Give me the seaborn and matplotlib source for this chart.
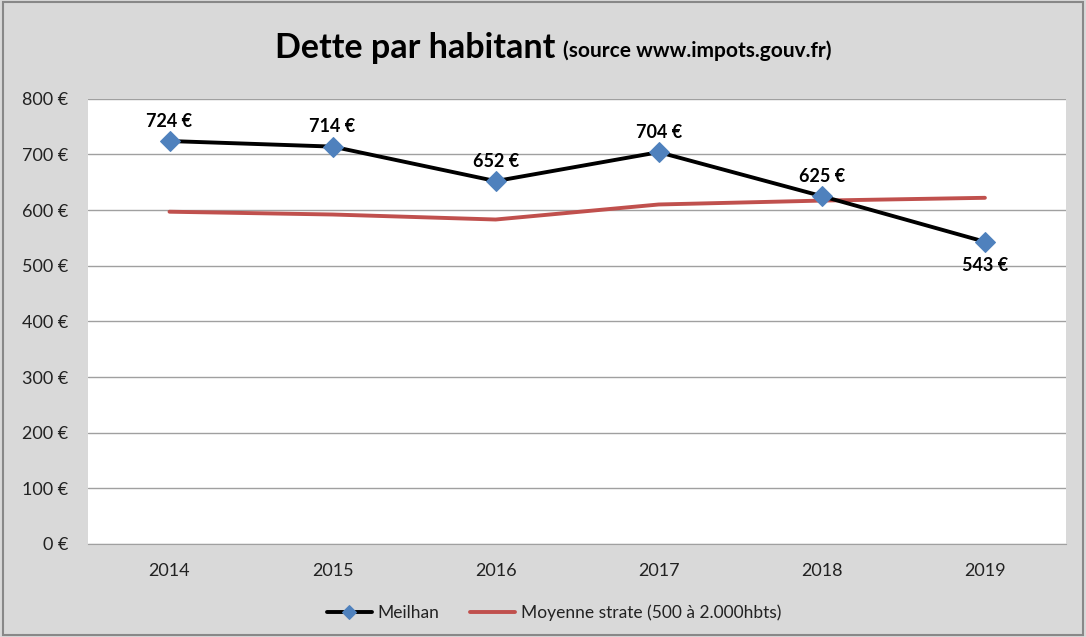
import matplotlib
matplotlib.use('Agg')
import seaborn as sns
import matplotlib.pyplot as plt
import pandas as pd

# données
annees = ['2014', '2015', '2016', '2017', '2018', '2019']
meilhan = [724, 714, 652, 704, 625, 543]
moyenne_strate = [597, 592, 583, 610, 617, 622]
yticks = [0, 100, 200, 300, 400, 500, 600, 700, 800]

df = pd.DataFrame({'annee': annees, 'Meilhan': meilhan, 'Moyenne': moyenne_strate})

sns.set_style('white')
plt.rcParams['font.family'] = ['Lato', 'DejaVu Sans']
plt.rcParams['text.color'] = 'black'
plt.rcParams['xtick.color'] = '#222222'
plt.rcParams['ytick.color'] = '#222222'

fig = plt.figure(figsize=(10.86, 6.37), dpi=100, facecolor='#d9d9d9')
ax = fig.add_axes([0.081, 0.146, 0.901, 0.699])
ax.set_facecolor('white')

x = list(range(len(annees)))
sns.lineplot(x=x, y=df['Moyenne'], ax=ax, color='#c0504d', linewidth=2.8,
             label='Moyenne strate (500 à 2.000hbts)')
sns.lineplot(x=x, y=df['Meilhan'], ax=ax, color='black', linewidth=2.8,
             marker='D', markersize=10, markerfacecolor='#4f81bd',
             markeredgecolor='#4f81bd', label='Meilhan')

# étiquettes
for i, v in enumerate(meilhan):
    if i == len(meilhan) - 1:
        ax.annotate(f'{v} €', (i, v), xytext=(0, -11), textcoords='offset points',
                    ha='center', va='top', fontsize=13, fontweight='bold', color='black')
    else:
        ax.annotate(f'{v} €', (i, v), xytext=(0, 8), textcoords='offset points',
                    ha='center', va='bottom', fontsize=13, fontweight='bold', color='black')

ax.set_xlim(-0.5, len(annees) - 0.5)
ax.set_ylim(0, 800)
ax.set_yticks(yticks)
ax.set_yticklabels([f'{t} €' for t in yticks], fontsize=13)
ax.set_xticks(x)
ax.set_xticklabels(annees, fontsize=13)
ax.set_xlabel('')
ax.set_ylabel('')
ax.yaxis.grid(True, color='#a0a0a0', linewidth=1)
ax.set_axisbelow(True)
ax.tick_params(axis='y', length=0, pad=14)
ax.tick_params(axis='x', length=0, pad=14)
for s in ['top', 'right', 'left']:
    ax.spines[s].set_visible(False)
ax.spines['bottom'].set_color('#a0a0a0')

# titre
fig.text(0.253, 0.925, 'Dette par habitant', fontsize=24.5, fontweight='bold', va='center', ha='left')
fig.text(0.518, 0.921, '(source www.impots.gouv.fr)', fontsize=15, fontweight='bold', va='center', ha='left')

# légende
h, l = ax.get_legend_handles_labels()
leg = fig.legend(h[::-1], l[::-1], loc='center', bbox_to_anchor=(0.51, 0.038), ncol=2,
                 frameon=False, fontsize=12.5, handlelength=2.6, handletextpad=0.3,
                 columnspacing=1.8)
ax.get_legend().remove()
for t in leg.get_texts():
    t.set_color('#222222')
for line in leg.get_lines():
    if line.get_marker() == 'D':
        line.set_markersize(7)

# bordure
fig.patches.append(plt.Rectangle((0.003, 0.003), 0.994, 0.994, transform=fig.transFigure,
                                 fill=False, edgecolor='#888888', linewidth=1.5))

plt.savefig('out.png', dpi=100, facecolor=fig.get_facecolor())
